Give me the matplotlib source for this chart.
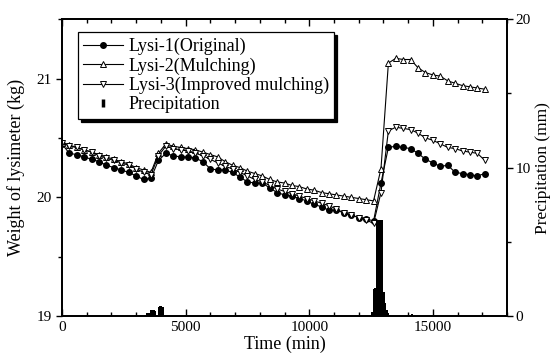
import numpy as np
import matplotlib
matplotlib.use("Agg")
import matplotlib.pyplot as plt
from matplotlib.lines import Line2D
from matplotlib.ticker import MultipleLocator

plt.rcParams['font.family'] = ['Liberation Serif', 'DejaVu Serif']

# time of the weighings (min)
time = np.arange(0, 17101, 300)

# weight of each lysimeter (kg)
lysi1 = [20.45, 20.37, 20.36, 20.34, 20.32, 20.30, 20.27, 20.25, 20.23, 20.21,
         20.18, 20.15, 20.16, 20.31, 20.37, 20.35, 20.34, 20.34, 20.33, 20.30,
         20.24, 20.23, 20.23, 20.21, 20.17, 20.13, 20.12, 20.12, 20.08, 20.04,
         20.02, 20.01, 19.99, 19.97, 19.94, 19.92, 19.89, 19.89, 19.87, 19.85,
         19.83, 19.82, 19.80, 20.12, 20.42, 20.43, 20.42, 20.41, 20.37, 20.32,
         20.29, 20.26, 20.27, 20.21, 20.20, 20.19, 20.18, 20.20]
lysi2 = [20.46, 20.44, 20.42, 20.40, 20.38, 20.36, 20.34, 20.32, 20.30, 20.28,
         20.25, 20.23, 20.21, 20.37, 20.45, 20.43, 20.42, 20.41, 20.40, 20.38,
         20.36, 20.34, 20.30, 20.27, 20.25, 20.22, 20.20, 20.18, 20.15, 20.13,
         20.12, 20.10, 20.09, 20.07, 20.06, 20.04, 20.03, 20.02, 20.01, 20.00,
         19.99, 19.98, 19.97, 20.24, 21.13, 21.17, 21.16, 21.16, 21.09, 21.05,
         21.03, 21.02, 20.98, 20.96, 20.94, 20.93, 20.92, 20.91]
lysi3 = [20.46, 20.43, 20.42, 20.40, 20.38, 20.35, 20.33, 20.31, 20.29, 20.27,
         20.24, 20.21, 20.19, 20.35, 20.43, 20.41, 20.40, 20.39, 20.37, 20.35,
         20.32, 20.29, 20.26, 20.24, 20.21, 20.18, 20.15, 20.13, 20.10, 20.07,
         20.05, 20.03, 20.01, 19.99, 19.97, 19.95, 19.93, 19.90, 19.87, 19.85,
         19.83, 19.81, 19.78, 20.04, 20.56, 20.59, 20.58, 20.57, 20.54, 20.50,
         20.48, 20.45, 20.42, 20.41, 20.39, 20.38, 20.37, 20.31]

# precipitation (mm)
rain_time = [3420, 3480, 3540, 3600, 3660, 3720, 3780, 3900, 3960, 4020, 4080,
             12540, 12600, 12660, 12720, 12780, 12840, 12900, 12960, 13020,
             13080, 13140, 13200, 13260, 14160]
rain = [0.2, 0.2, 0.2, 0.4, 0.4, 0.4, 0.35, 0.6, 0.7, 0.7, 0.6,
        0.3, 1.8, 1.9, 6.5, 6.5, 6.5, 6.5, 6.5, 1.6,
        0.9, 0.4, 0.2, 0.1, 0.15]

fig = plt.figure(figsize=(5.53, 3.54), dpi=100)
ax = fig.add_axes([0.112, 0.107, 0.805, 0.839])
ax2 = ax.twinx()

ax.plot(time, lysi1, '-', color='black', lw=0.8, marker='o', ms=4, mfc='black', mec='black')
ax.plot(time, lysi2, '-', color='black', lw=0.8, marker='^', ms=5, mfc='white', mec='black', mew=0.7)
ax.plot(time, lysi3, '-', color='black', lw=0.8, marker='v', ms=5, mfc='white', mec='black', mew=0.7)
ax2.bar(rain_time, rain, width=62, color='black', align='center')

ax.set_xlim(0, 18000)
ax.set_ylim(19, 21.5)
ax2.set_ylim(0, 20)

ax.xaxis.set_major_locator(MultipleLocator(5000))
ax.xaxis.set_minor_locator(MultipleLocator(1000))
ax.yaxis.set_major_locator(MultipleLocator(1))
ax.yaxis.set_minor_locator(MultipleLocator(0.5))
ax2.yaxis.set_major_locator(MultipleLocator(10))
ax2.yaxis.set_minor_locator(MultipleLocator(5))

ax.tick_params(axis='x', which='both', direction='in', top=True, labelsize=11)
ax.tick_params(axis='x', which='major', length=5, width=1)
ax.tick_params(axis='x', which='minor', length=3, width=1)
ax.tick_params(axis='y', which='both', direction='out', labelsize=11, width=1)
ax.tick_params(axis='y', which='major', length=4)
ax.tick_params(axis='y', which='minor', length=3)
ax2.tick_params(axis='y', which='both', direction='out', labelsize=11, width=1, pad=2)
ax2.tick_params(axis='y', which='major', length=4)
ax2.tick_params(axis='y', which='minor', length=3)

for a in (ax, ax2):
    for s in a.spines.values():
        s.set_linewidth(1.3)

ax.set_xlabel('Time (min)', fontsize=13, labelpad=1)
ax.set_ylabel('Weight of lysimeter (kg)', fontsize=13, labelpad=8)
ax2.set_ylabel('Precipitation (mm)', fontsize=12.5, labelpad=3)

handles = [
    Line2D([], [], color='black', lw=0.8, marker='o', ms=4, mfc='black'),
    Line2D([], [], color='black', lw=0.8, marker='^', ms=5, mfc='white', mew=0.7),
    Line2D([], [], color='black', lw=0.8, marker='v', ms=5, mfc='white', mew=0.7),
    Line2D([], [], ls='none', color='black', marker='|', ms=6, mew=2.5),
]
labels = ['Lysi-1(Original)', 'Lysi-2(Mulching)', 'Lysi-3(Improved mulching)', 'Precipitation']
leg = ax2.legend(handles, labels, loc='upper left', bbox_to_anchor=(0.036, 0.955),
                 fontsize=13, frameon=True, fancybox=False, edgecolor='black',
                 shadow={'color': 'black', 'alpha': 1.0, 'ox': 2, 'oy': -2},
                 handlelength=2.2, handletextpad=0.3, labelspacing=0.12,
                 borderpad=0.3, borderaxespad=0)
leg.get_frame().set_linewidth(0.9)

fig.savefig('out.png', dpi=100)
